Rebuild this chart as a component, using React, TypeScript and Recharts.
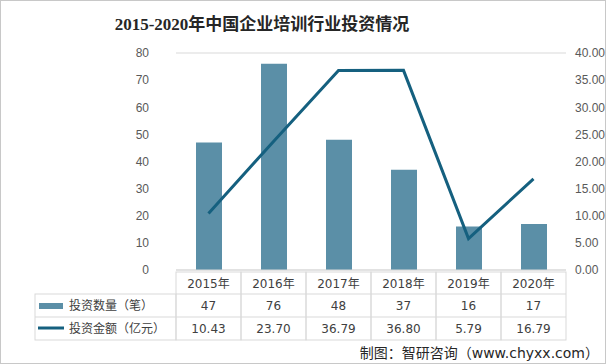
import { Bar, CartesianGrid, ComposedChart, Line, XAxis, YAxis } from "recharts";

const years = ["2015年", "2016年", "2017年", "2018年", "2019年", "2020年"];
const dealCount = [47, 76, 48, 37, 16, 17];
const dealAmount = [10.43, 23.7, 36.79, 36.8, 5.79, 16.79];
const leftTicks = [0, 10, 20, 30, 40, 50, 60, 70, 80];
const rightTicks = [0, 5, 10, 15, 20, 25, 30, 35, 40];

const BAR_COLOR = "#5b8fa7";
const LINE_COLOR = "#15607f";
const BORDER = "#d9d9d9";
const TEXT = "#404040";
const FONT = "DejaVu Sans, Noto Sans CJK SC, sans-serif";
const TICK_FONT = "Liberation Sans, Arial, sans-serif";

const data = years.map((year, i) => ({
  year,
  count: dealCount[i],
  amount: dealAmount[i],
}));

function TableTick(props: any) {
  const { x, y, payload } = props;
  const i = payload.index;
  const half = payload.offset || 32.5;
  const left = x - half;
  const rows = [y, y + 22, y + 45, y + 68];
  const txt = { fontSize: 12, fill: TEXT, fontFamily: FONT };
  const cells = [
    <g key="cell">
      <rect x={left} y={rows[0]} width={half * 2} height={rows[3] - rows[0]} fill="none" stroke={BORDER} />
      <line x1={left} x2={left + half * 2} y1={rows[1]} y2={rows[1]} stroke={BORDER} />
      <line x1={left} x2={left + half * 2} y1={rows[2]} y2={rows[2]} stroke={BORDER} />
      <text x={x} y={rows[0] + 16} textAnchor="middle" {...txt}>
        {years[i]}
      </text>
      <text x={x} y={rows[1] + 16} textAnchor="middle" {...txt}>
        {dealCount[i]}
      </text>
      <text x={x} y={rows[2] + 16} textAnchor="middle" {...txt}>
        {dealAmount[i].toFixed(2)}
      </text>
    </g>,
  ];
  if (i === 0) {
    const lx = left - 141;
    cells.push(
      <g key="legend">
        <rect x={lx} y={rows[1]} width={141} height={rows[3] - rows[1]} fill="none" stroke={BORDER} />
        <line x1={lx} x2={left} y1={rows[2]} y2={rows[2]} stroke={BORDER} />
        <rect x={lx + 4} y={rows[1] + 9} width={24} height={6} fill={BAR_COLOR} />
        <text x={lx + 34} y={rows[1] + 16} {...txt}>
          投资数量（笔）
        </text>
        <line x1={lx + 3} x2={lx + 29} y1={rows[2] + 11} y2={rows[2] + 11} stroke={LINE_COLOR} strokeWidth={3} />
        <text x={lx + 34} y={rows[2] + 16} {...txt}>
          投资金额（亿元）
        </text>
      </g>
    );
  }
  return <g>{cells}</g>;
}

export default function App() {
  return (
    <div
      style={{
        position: "fixed",
        left: 0,
        top: 0,
        width: 606,
        height: 364,
        background: "#fff",
        border: "1px solid #c8c8c8",
        boxSizing: "border-box",
        fontFamily: FONT,
      }}
    >
      <div
        style={{
          position: "absolute",
          top: 13,
          left: 0,
          width: 522,
          textAlign: "center",
          fontSize: 17,
          fontWeight: "bold",
          color: "#262626",
          lineHeight: "22px",
          fontFamily: "Liberation Serif, Noto Sans CJK SC, serif",
        }}
      >
        2015-2020年中国企业培训行业投资情况
      </div>
      <div style={{ position: "absolute", left: -1, top: -1 }}>
        <ComposedChart width={606} height={364} data={data} margin={{ top: 53, right: 0, bottom: 26, left: 146 }}>
          <CartesianGrid stroke={BORDER} vertical={false} />
          <XAxis
            dataKey="year"
            height={68}
            axisLine={{ stroke: BORDER }}
            tickLine={false}
            tickSize={0}
            tick={<TableTick />}
            interval={0}
          />
          <YAxis
            yAxisId="left"
            width={30}
            domain={[0, 80]}
            ticks={leftTicks}
            axisLine={false}
            tickLine={false}
            tickSize={0}
            tickMargin={27}
            tick={{ fill: "#595959", fontSize: 12, fontFamily: TICK_FONT }}
          />
          <YAxis
            yAxisId="right"
            orientation="right"
            width={40}
            domain={[0, 40]}
            ticks={rightTicks}
            axisLine={false}
            tickLine={false}
            tickSize={0}
            tickMargin={9}
            tickFormatter={(v: number) => v.toFixed(2)}
            tick={{ fill: "#595959", fontSize: 12, fontFamily: TICK_FONT, textAnchor: "start" }}
          />
          <Bar yAxisId="left" dataKey="count" fill={BAR_COLOR} barSize={26} isAnimationActive={false} />
          <Line
            yAxisId="right"
            dataKey="amount"
            type="linear"
            stroke={LINE_COLOR}
            strokeWidth={3}
            dot={false}
            activeDot={false}
            isAnimationActive={false}
          />
        </ComposedChart>
      </div>
      <div
        style={{
          position: "absolute",
          right: 6,
          top: 342,
          fontSize: 14,
          color: "#262626",
          lineHeight: "20px",
        }}
      >
        制图：智研咨询（www.chyxx.com）
      </div>
    </div>
  );
}
